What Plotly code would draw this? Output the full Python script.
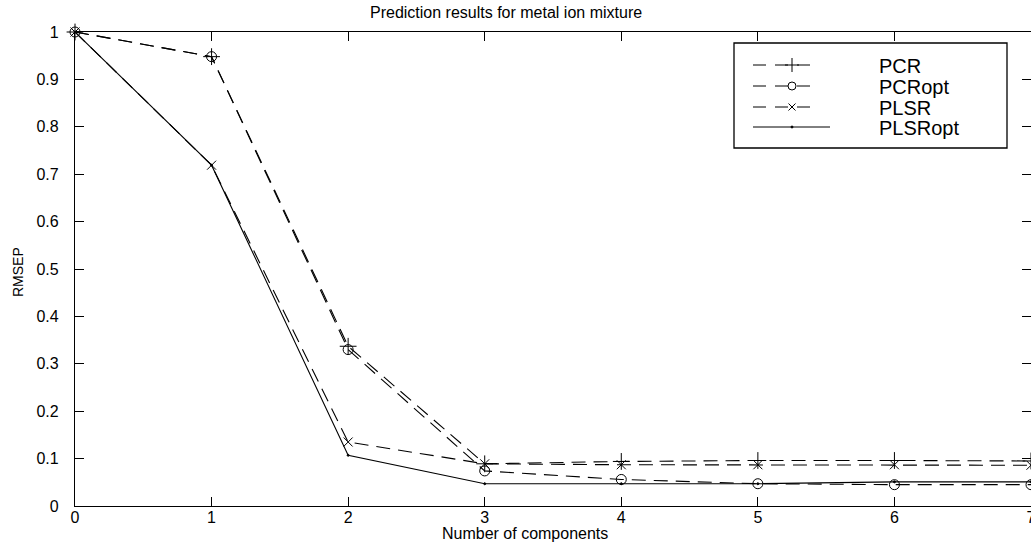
import plotly.graph_objects as go

# ---- data ----
components = [0, 1, 2, 3, 4, 5, 6, 7]
pcr      = [1.0, 0.948, 0.337, 0.089, 0.094, 0.096, 0.096, 0.095]
pcr_opt  = [1.0, 0.948, 0.330, 0.074, 0.056, 0.047, 0.045, 0.045]
plsr     = [1.0, 0.719, 0.135, 0.089, 0.087, 0.087, 0.087, 0.086]
plsr_opt = [1.0, 0.719, 0.107, 0.047, 0.047, 0.047, 0.051, 0.051]
series_names = ["PCR", "PCRopt", "PLSR", "PLSRopt"]
y_ticks = [0, 0.1, 0.2, 0.3, 0.4, 0.5, 0.6, 0.7, 0.8, 0.9, 1]
y_tick_labels = ["0", "0.1", "0.2", "0.3", "0.4", "0.5", "0.6", "0.7", "0.8", "0.9", "1"]

# ---- styles ----
W, H = 1031, 542
ML, MR, MT, MB = 75, 0, 32, 36
FONT = "Liberation Sans, Arial, Helvetica, sans-serif"
DASH = "14px,8px"
styles = [
    dict(dash=DASH, symbol="cross-thin-open", size=12),
    dict(dash=DASH, symbol="circle-open", size=10),
    dict(dash=DASH, symbol="x-thin-open", size=9),
    dict(dash="solid", symbol="circle", size=2),
]
all_series = [pcr, pcr_opt, plsr, plsr_opt]

fig = go.Figure()
for name, ys, st in zip(series_names, all_series, styles):
    fig.add_trace(go.Scatter(
        x=components, y=ys, name=name, mode="lines+markers",
        line=dict(color="black", width=1.1, dash=st["dash"]),
        marker=dict(symbol=st["symbol"], size=st["size"], color="black",
                    line=dict(color="black", width=1)),
        showlegend=False, cliponaxis=False,
    ))

# ---- manual legend (pixel layout converted to paper coords) ----
pw, ph = W - ML - MR, H - MT - MB
def px(xp): return (xp - ML) / pw
def py(yp): return (H - MB - yp) / ph

fig.add_shape(type="rect", xref="paper", yref="paper",
              x0=px(734), x1=px(1007), y0=py(148), y1=py(43),
              line=dict(color="black", width=1.3), fillcolor="rgba(0,0,0,0)", layer="above")
row_y = [65, 86, 107, 127]
for name, st, ry in zip(series_names, styles, row_y):
    x_end = 830 if st["dash"] == "solid" else 819
    fig.add_shape(type="line", xref="paper", yref="paper",
                  x0=px(753), x1=px(x_end), y0=py(ry), y1=py(ry),
                  line=dict(color="black", width=1, dash="13px,9px" if st["dash"] != "solid" else "solid"),
                  layer="above")
    fig.add_trace(go.Scatter(
        x=[px(792)], y=[py(ry)], xaxis="x2", yaxis="y2", mode="markers",
        marker=dict(symbol=st["symbol"], size=max(st["size"] - 2, 2), color="black",
                    line=dict(color="black", width=1)),
        showlegend=False, hoverinfo="skip", cliponaxis=False,
    ))
    fig.add_annotation(xref="paper", yref="paper", x=px(877), y=py(ry + 1),
                       text=name, showarrow=False, xanchor="left", yanchor="middle",
                       font=dict(family=FONT, size=20, color="black"))

# ---- titles ----
fig.add_annotation(xref="paper", yref="paper", x=px(506), y=py(12),
                   text="Prediction results for metal ion mixture", showarrow=False,
                   xanchor="center", yanchor="middle",
                   font=dict(family=FONT, size=16, color="black"))
fig.add_annotation(xref="paper", yref="paper", x=px(525), y=py(533),
                   text="Number of components", showarrow=False,
                   xanchor="center", yanchor="middle",
                   font=dict(family=FONT, size=16, color="black"))
fig.add_annotation(xref="paper", yref="paper", x=px(18), y=py(272),
                   text="RMSEP", showarrow=False, textangle=-90,
                   xanchor="center", yanchor="middle",
                   font=dict(family=FONT, size=14, color="black"))

axis_common = dict(showline=True, linecolor="black", linewidth=1.3, mirror="allticks",
                   ticks="inside", ticklen=9, tickwidth=1, tickcolor="black",
                   showgrid=False, zeroline=False, ticklabeloverflow="allow",
                   automargin=False,
                   tickfont=dict(family=FONT, size=16, color="black"))

fig.update_layout(
    width=W, height=H,
    margin=dict(l=ML, r=MR, t=MT, b=MB, autoexpand=False),
    paper_bgcolor="white", plot_bgcolor="white",
    xaxis=dict(range=[0, 7], tickvals=components, ticklabelstandoff=-3, **axis_common),
    yaxis=dict(range=[0, 1], tickvals=y_ticks, ticktext=y_tick_labels,
               ticklabelstandoff=12, **axis_common),
    xaxis2=dict(range=[0, 1], domain=[0, 1], anchor="y2", visible=False, overlaying="x"),
    yaxis2=dict(range=[0, 1], domain=[0, 1], anchor="x2", visible=False, overlaying="y"),
    showlegend=False,
)

fig.write_html("out.html")
